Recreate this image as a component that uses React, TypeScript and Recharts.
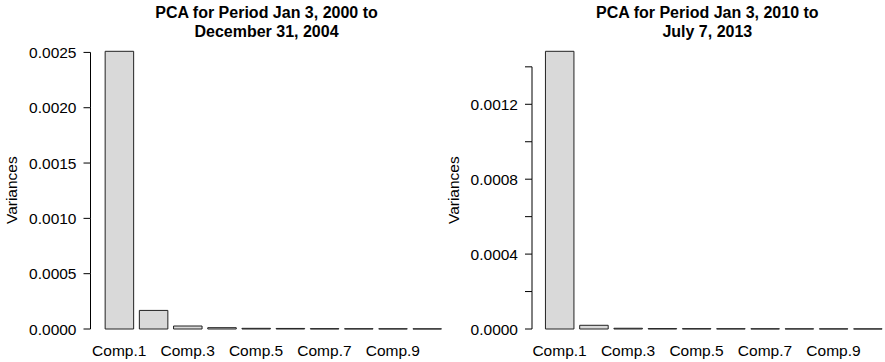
import React from 'react';
import { BarChart, Bar, XAxis, YAxis } from 'recharts';

const components = ['Comp.1', 'Comp.2', 'Comp.3', 'Comp.4', 'Comp.5', 'Comp.6', 'Comp.7', 'Comp.8', 'Comp.9', 'Comp.10'];

const variances2000 = [0.00251, 0.000168, 0.000027, 0.000012, 0.000006, 0.000005, 0.000003, 0.0000025, 0.000002, 0.0000015];
const variances2010 = [0.001483, 0.0000198, 0.000004, 0.0000022, 0.0000018, 0.0000015, 0.0000012, 0.000001, 0.0000008, 0.0000006];

const ticks2000 = [0, 0.0005, 0.001, 0.0015, 0.002, 0.0025];
const labels2000 = [0, 0.0005, 0.001, 0.0015, 0.002, 0.0025];
const ticks2010 = [0, 0.0002, 0.0004, 0.0006, 0.0008, 0.001, 0.0012, 0.0014];
const labels2010 = [0, 0.0004, 0.0008, 0.0012];

const title2000 = ['PCA for Period Jan 3, 2000 to', 'December 31, 2004'];
const title2010 = ['PCA for Period Jan 3, 2010 to', 'July 7, 2013'];

const FONT = '"Liberation Sans", Arial, Helvetica, sans-serif';
const TICK_SIZE = 7;
const TICK_MARGIN = 7;
const FS = 15.5;

const data2000 = components.map((name, i) => ({ name, v: variances2000[i] }));
const data2010 = components.map((name, i) => ({ name, v: variances2010[i] }));

function makeYTick(labeled: number[]) {
  let prevY: number | null = null;
  return (props: any) => {
    const { x, y, payload, index } = props;
    if (index === 0) prevY = null;
    const ax = x + TICK_SIZE + TICK_MARGIN;
    const seg =
      prevY !== null ? <line x1={ax} x2={ax} y1={prevY} y2={y} stroke="#000" strokeWidth={1} /> : null;
    prevY = y;
    const show = labeled.some((l) => Math.abs(l - payload.value) < 1e-12);
    return (
      <g>
        {seg}
        {show ? (
          <text x={x} y={y} dy="0.355em" textAnchor="end" fill="#000" fontSize={FS} fontFamily={FONT}>
            {payload.value.toFixed(4)}
          </text>
        ) : null}
      </g>
    );
  };
}

const yLabel = (props: any) => {
  const vb = props.viewBox;
  const cx = vb.x + 17;
  const cy = vb.y + vb.height / 2;
  return (
    <text
      x={cx}
      y={cy}
      transform={`rotate(-90 ${cx} ${cy})`}
      textAnchor="middle"
      fill="#000"
      fontSize={FS}
      fontFamily={FONT}
    >
      Variances
    </text>
  );
};

function Title({ lines, center }: { lines: string[]; center: number }) {
  return (
    <div
      style={{
        position: 'absolute',
        left: center - 200,
        top: 2.5,
        width: 400,
        textAlign: 'center',
        fontFamily: FONT,
        fontWeight: 'bold',
        fontSize: 16,
        lineHeight: '19px',
        color: '#000',
      }}
    >
      {lines.map((l) => (
        <div key={l}>{l}</div>
      ))}
    </div>
  );
}

function Panel(props: {
  data: { name: string; v: number }[];
  left: number;
  width: number;
  axisWidth: number;
  padLeft: number;
  marginRight: number;
  domainMax: number;
  ticks: number[];
  labeled: number[];
}) {
  const tick = makeYTick(props.labeled);
  return (
    <div style={{ position: 'absolute', left: props.left, top: 0 }}>
      <BarChart
        width={props.width}
        height={362}
        data={props.data}
        margin={{ top: 51.3, right: props.marginRight, bottom: 0, left: 0 }}
      >
        <XAxis
          dataKey="name"
          height={33}
          padding={{ left: props.padLeft, right: 0 }}
          axisLine={false}
          tickLine={false}
          tickSize={8}
          tickMargin={8}
          interval={1}
          tick={{ fill: '#000', fontSize: FS, fontFamily: FONT }}
        />
        <YAxis
          width={props.axisWidth}
          domain={[0, props.domainMax]}
          ticks={props.ticks}
          interval={0}
          axisLine={false}
          tickLine={{ stroke: '#000', strokeWidth: 1 }}
          tickSize={TICK_SIZE}
          tickMargin={TICK_MARGIN}
          tick={tick}
          label={{ content: yLabel }}
        />
        <Bar dataKey="v" fill="#D9D9D9" stroke="#222" strokeWidth={1} barSize={28.5} isAnimationActive={false} />
      </BarChart>
    </div>
  );
}

export default function App() {
  return (
    <div style={{ position: 'absolute', left: 0, top: 0, width: 885, height: 362, background: '#fff', overflow: 'hidden' }}>
      <Panel
        data={data2000}
        left={0}
        width={446}
        axisWidth={90.5}
        padLeft={11.65}
        marginRight={1.85}
        domainMax={0.00251}
        ticks={ticks2000}
        labeled={labels2000}
      />
      <Panel
        data={data2010}
        left={442}
        width={443}
        axisWidth={90}
        padLeft={10.45}
        marginRight={0.15}
        domainMax={0.001483}
        ticks={ticks2010}
        labeled={labels2010}
      />
      <Title lines={title2000} center={266.5} />
      <Title lines={title2010} center={707.3} />
    </div>
  );
}
